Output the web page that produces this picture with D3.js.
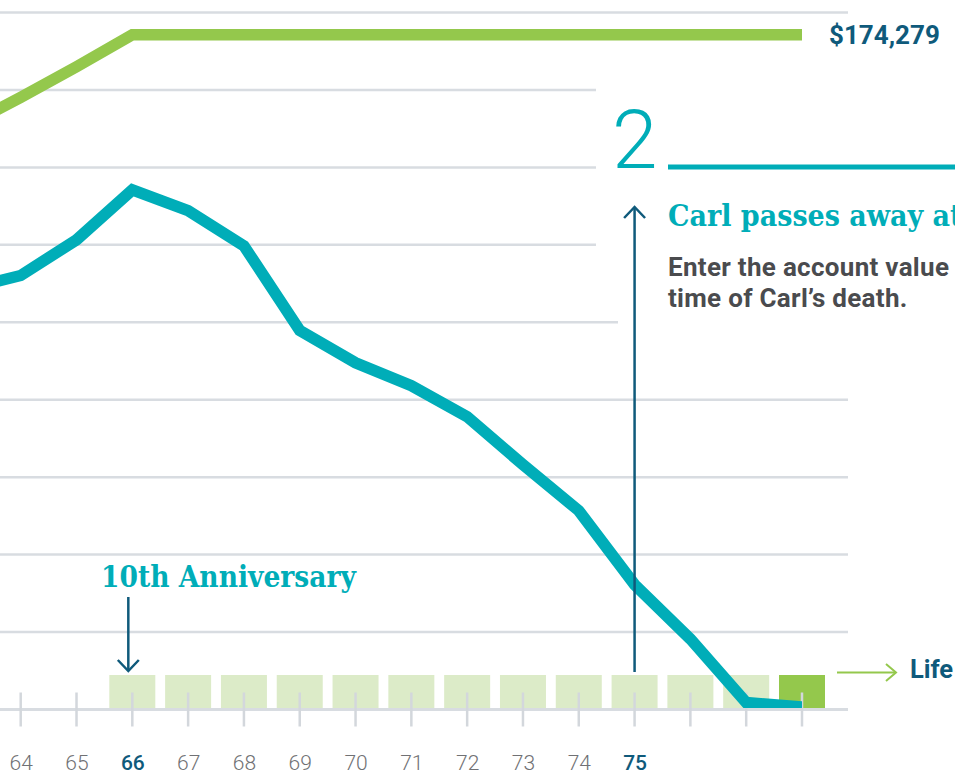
<!DOCTYPE html>
<html>
<head>
<meta charset="utf-8">
<script src="https://cdn.jsdelivr.net/npm/d3@7"></script>
<style>
  html, body { margin: 0; padding: 0; background: #fff; overflow: hidden; }
  svg { display: block; }
</style>
</head>
<body>
<svg id="chart" width="955" height="771"></svg>
<script>
// ---- data ----
const ages = [63, 64, 65, 66, 67, 68, 69, 70, 71, 72, 73, 74, 75, 76, 77, 78];
const benefitBase = [150549, 158076, 165980, 174279, 174279, 174279, 174279, 174279, 174279, 174279, 174279, 174279, 174279, 174279, 174279, 174279];
const accountValue = [108500, 112080, 121290, 134190, 128850, 119740, 97880, 89550, 83610, 75610, 63230, 51350, 32260, 18200, 1810, 650];
const tickAges = [64, 65, 66, 67, 68, 69, 70, 71, 72, 73, 74, 75, 76, 77, 78];
const tickLabels = ["64", "65", "66", "67", "68", "69", "70", "71", "72", "73", "74", "75", "", "", ""];
const highlightAges = [66, 75];
const boxAges = [66, 67, 68, 69, 70, 71, 72, 73, 74, 75, 76, 77, 78];
const boxKinds = ["w", "w", "w", "w", "w", "w", "w", "w", "w", "w", "w", "w", "life"];
const gridValues = [20000, 40000, 60000, 80000, 100000, 120000, 140000, 160000, 180000];
const endLabel = "$174,279";

// ---- colours ----
const C = {
  teal: "#00adb8", green: "#94c84c", lightGreen: "#dcebc8", navy: "#0f5a7b",
  grid: "#d8dce1", tick: "#d3d7dc", label: "#707174", body: "#4a4b4e"
};

const svg = d3.select("#chart");
const x = d3.scaleLinear().domain([64, 78]).range([20.7, 802]);
const y = d3.scaleLinear().domain([0, 180000]).range([709.5, 12.5]);
const gridRight = 848, gridLeft = -80;

// gridlines
svg.append("g").selectAll("line").data(gridValues).join("line")
  .attr("x1", gridLeft).attr("x2", gridRight)
  .attr("y1", d => y(d)).attr("y2", d => y(d))
  .attr("stroke", C.grid).attr("stroke-width", 2.5);

// white panel behind the annotation
svg.append("rect").attr("x", 596).attr("y", 60).attr("width", 360).attr("height", 250).attr("fill", "#fff");
svg.append("rect").attr("x", 618).attr("y", 250).attr("width", 340).attr("height", 90).attr("fill", "#fff");

// withdrawal boxes
const boxW = 46, boxH = 33;
svg.append("g").selectAll("rect").data(boxAges).join("rect")
  .attr("x", d => x(d) - boxW / 2).attr("y", y(0) - 1.5 - boxH)
  .attr("width", boxW).attr("height", boxH)
  .attr("fill", (d, i) => boxKinds[i] === "life" ? C.green : C.lightGreen);

// axis
const xAxis = d3.axisBottom(x).tickValues(tickAges).tickSize(0).tickFormat((d, i) => tickLabels[i]);
const ax = svg.append("g").attr("transform", `translate(0,${y(0)})`).call(xAxis);
ax.select(".domain").remove();
ax.selectAll("text")
  .attr("y", 60).attr("dy", 0)
  .attr("font-family", "Roboto, sans-serif").attr("font-size", 21)
  .attr("font-weight", d => highlightAges.includes(d) ? 500 : 300)
  .attr("fill", d => highlightAges.includes(d) ? C.navy : C.label);
svg.append("line").attr("x1", gridLeft).attr("x2", gridRight)
  .attr("y1", y(0)).attr("y2", y(0)).attr("stroke", C.grid).attr("stroke-width", 3);

// clip for the lines
svg.append("defs").append("clipPath").attr("id", "plotClip")
  .append("rect").attr("x", -200).attr("y", 0).attr("width", x(78) + 200).attr("height", y(0) - 1.5);

const line = d3.line().x((d, i) => x(ages[i])).y(d => y(d));

svg.append("path").datum(benefitBase).attr("d", line)
  .attr("fill", "none").attr("stroke", C.green).attr("stroke-width", 11.5)
  .attr("stroke-linejoin", "miter").attr("clip-path", "url(#plotClip)");

// ticks on top of boxes
svg.append("g").selectAll("line").data(tickAges).join("line")
  .attr("x1", d => x(d)).attr("x2", d => x(d))
  .attr("y1", y(0) - 17).attr("y2", y(0) + 17)
  .attr("stroke", C.tick).attr("stroke-width", 2.5);

svg.append("path").datum(accountValue).attr("d", line)
  .attr("fill", "none").attr("stroke", C.teal).attr("stroke-width", 11.5)
  .attr("stroke-linejoin", "miter").attr("clip-path", "url(#plotClip)");

// end value label
svg.append("text").attr("x", 829).attr("y", 44).text(endLabel)
  .attr("font-family", "Roboto, sans-serif").attr("font-weight", 700).attr("font-size", 26)
  .attr("fill", C.navy);

// arrows
function arrow(x0, yFrom, yTo, color, w) {
  const g = svg.append("g").attr("fill", "none").attr("stroke", color).attr("stroke-width", w);
  g.append("line").attr("x1", x0).attr("x2", x0).attr("y1", yFrom).attr("y2", yTo);
  const dir = yTo > yFrom ? 1 : -1;
  g.append("path").attr("d", `M${x0 - 10.5},${yTo - dir * 11} L${x0},${yTo} L${x0 + 10.5},${yTo - dir * 11}`);
}
arrow(x(66) - 4, 597, 671, C.navy, 2.5);
arrow(x(75), 672, 207, C.navy, 2.5);

// Life arrow
const lg = svg.append("g").attr("fill", "none").attr("stroke", C.green).attr("stroke-width", 2);
lg.append("line").attr("x1", 837).attr("x2", 896).attr("y1", 672.5).attr("y2", 672.5);
lg.append("path").attr("d", "M886,664 L896,672.5 L886,681");
svg.append("text").attr("x", 910).attr("y", 678).text("Life")
  .attr("font-family", "Roboto, sans-serif").attr("font-weight", 700).attr("font-size", 25.5)
  .attr("fill", C.navy);

// annotation: 10th Anniversary
svg.append("text").attr("x", 101).attr("y", 587).text("10th Anniversary")
  .attr("font-family", "'DejaVu Serif', serif").attr("font-stretch", "condensed")
  .attr("font-weight", 700).attr("font-size", 29.5).attr("fill", C.teal);

// annotation 2
svg.append("text").attr("x", 612).attr("y", 168).text("2")
  .attr("font-family", "Roboto, sans-serif").attr("font-weight", 300).attr("font-size", 82)
  .attr("fill", C.teal);
svg.append("line").attr("x1", 668).attr("x2", 960).attr("y1", 167).attr("y2", 167)
  .attr("stroke", C.teal).attr("stroke-width", 5);
svg.append("text").attr("x", 668).attr("y", 226).text("Carl passes away at")
  .attr("font-family", "'DejaVu Serif', serif").attr("font-stretch", "condensed")
  .attr("font-weight", 700).attr("font-size", 30).attr("fill", C.teal);
const body = svg.append("text").attr("font-family", "Roboto, sans-serif").attr("font-weight", 700)
  .attr("font-size", 26).attr("letter-spacing", 0.3).attr("fill", C.body);
body.append("tspan").attr("x", 668).attr("y", 275.5).text("Enter the account value");
body.append("tspan").attr("x", 668).attr("y", 307).text("time of Carl\u2019s death.");
</script>
</body>
</html>
